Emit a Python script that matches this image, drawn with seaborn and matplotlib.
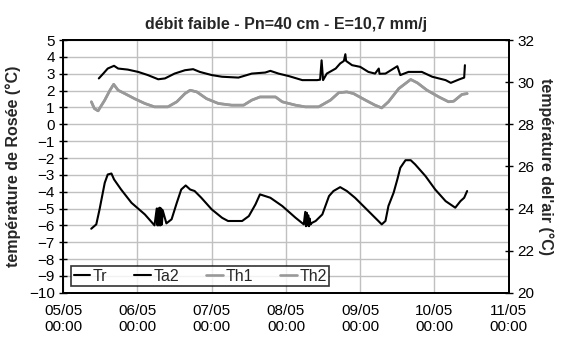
import pandas as pd
import matplotlib
matplotlib.use('Agg')
import matplotlib.pyplot as plt
import matplotlib.dates as mdates
import seaborn as sns

# valeurs (jours depuis le 05/05 00:00)
tr_days = [0.378, 0.446, 0.49, 0.56, 0.60, 0.65, 0.685, 0.78, 0.92, 1.10, 1.23,
           1.26, 1.27, 1.28, 1.29, 1.30, 1.31, 1.32, 1.33, 1.34,
           1.39, 1.46, 1.53, 1.59, 1.65, 1.71, 1.77, 1.86, 2.0, 2.14, 2.22, 2.41,
           2.50, 2.59, 2.65, 2.72, 2.79, 2.95, 3.13, 3.24,
           3.26, 3.27, 3.28, 3.29, 3.30, 3.31, 3.32, 3.33, 3.35,
           3.40, 3.49, 3.58, 3.64, 3.73, 3.82, 3.93, 4.11, 4.29, 4.34, 4.38,
           4.45, 4.50, 4.54, 4.61, 4.68, 4.74, 4.88, 5.01, 5.15, 5.28, 5.35,
           5.40, 5.44]
tr_vals = [-6.2, -5.94, -5.05, -3.47, -2.98, -2.92, -3.27, -3.87, -4.66, -5.35, -6.0,
           -5.0, -6.0, -5.0, -6.0, -4.95, -6.0, -5.0, -5.95, -5.1,
           -5.88, -5.64, -4.66, -3.87, -3.63, -3.87, -3.96, -4.36, -5.05, -5.55, -5.74, -5.74,
           -5.45, -4.75, -4.16, -4.26, -4.36, -4.85, -5.55, -5.94,
           -5.2, -6.05, -5.25, -6.0, -5.4, -6.05, -5.6, -5.95, -5.85,
           -5.74, -5.35, -4.26, -3.96, -3.73, -3.96, -4.36, -5.15, -5.94, -5.74, -4.85,
           -4.06, -3.27, -2.58, -2.13, -2.13, -2.38, -3.08, -3.87, -4.56, -4.95, -4.56,
           -4.36, -3.96]

ta2_days = [0.48, 0.54, 0.60, 0.685, 0.74, 0.87, 1.01, 1.14, 1.28, 1.37, 1.50, 1.64,
            1.75, 1.84, 2.0, 2.14, 2.36, 2.54, 2.72, 2.79, 2.90, 3.04, 3.22, 3.42,
            3.46, 3.48, 3.50, 3.55, 3.67, 3.73, 3.78, 3.80, 3.81, 3.89, 4.0, 4.11,
            4.20, 4.25, 4.26, 4.34, 4.45, 4.50, 4.54, 4.65, 4.83, 4.97, 5.15, 5.22,
            5.33, 5.40, 5.41]
ta2_vals = [30.18, 30.41, 30.65, 30.78, 30.65, 30.60, 30.49, 30.34, 30.14, 30.18, 30.41, 30.57,
            30.62, 30.49, 30.34, 30.26, 30.22, 30.41, 30.46, 30.54, 30.41, 30.29, 30.10, 30.10,
            30.12, 31.04, 30.10, 30.41, 30.65, 30.89, 31.01, 31.33, 31.01, 30.81, 30.73, 30.49,
            30.41, 30.65, 30.40, 30.41, 30.65, 30.76, 30.34, 30.49, 30.49, 30.26, 30.10, 29.97,
            30.13, 30.22, 30.81]

th_days = [0.38, 0.42, 0.47, 0.56, 0.63, 0.68, 0.74, 0.83, 0.96, 1.10, 1.23, 1.41,
           1.53, 1.64, 1.71, 1.80, 1.93, 2.09, 2.27, 2.43, 2.54, 2.65, 2.86, 2.95,
           3.13, 3.26, 3.44, 3.60, 3.71, 3.82, 3.91, 4.07, 4.20, 4.29, 4.38, 4.52,
           4.68, 4.77, 4.90, 5.06, 5.19, 5.26, 5.37, 5.44]
th1_vals = [29.07, 28.75, 28.64, 29.15, 29.62, 29.90, 29.62, 29.46, 29.22, 28.99, 28.83, 28.83,
            29.07, 29.46, 29.62, 29.54, 29.22, 28.99, 28.91, 28.91, 29.15, 29.30, 29.30, 29.07,
            28.91, 28.83, 28.83, 29.15, 29.50, 29.54, 29.46, 29.15, 28.91, 28.78, 29.07, 29.70,
            30.13, 29.97, 29.62, 29.30, 29.07, 29.10, 29.42, 29.46]
# Th2 se superpose à Th1 sur le graphique
th2_vals = list(th1_vals)

start = pd.Timestamp('2008-05-05')
def to_dates(days):
    return start + pd.to_timedelta(days, unit='D')

sns.set_style('white')
plt.rcParams['font.family'] = ['Liberation Sans', 'DejaVu Sans']
fs = 11.5
fs_tick = 11

fig, ax = plt.subplots(figsize=(5.64, 3.40), dpi=100)
fig.subplots_adjust(left=0.112, right=0.902, top=0.882, bottom=0.139)
ax2 = ax.twinx()

sns.lineplot(x=to_dates(tr_days), y=tr_vals, ax=ax, color='black', lw=1.5,
             estimator=None, label='Tr', legend=False)
sns.lineplot(x=to_dates(th_days), y=th1_vals, ax=ax2, color='#999999', lw=1.9,
             estimator=None, label='Th1', legend=False)
sns.lineplot(x=to_dates(th_days), y=th2_vals, ax=ax2, color='#999999', lw=1.9,
             estimator=None, label='Th2', legend=False)
sns.lineplot(x=to_dates(ta2_days), y=ta2_vals, ax=ax2, color='black', lw=1.5,
             estimator=None, label='Ta2', legend=False)

ax.set_xlim(start, start + pd.Timedelta(days=6))
ax.set_ylim(-10, 5)
ax.set_yticks(range(-10, 6))
ax2.set_ylim(20, 32)
ax2.set_yticks(range(20, 33, 2))
ax.xaxis.set_major_locator(mdates.DayLocator())
ax.xaxis.set_major_formatter(mdates.DateFormatter('%d/%m\n%H:%M'))

ax.grid(True, color='#c0c0c0', lw=1)
ax.set_axisbelow(True)
for a in (ax, ax2):
    for s in a.spines.values():
        s.set_color('black')
        s.set_linewidth(1.3)
    a.tick_params(direction='inout', length=6, width=1, colors='black', labelsize=fs_tick, pad=3)
ax.tick_params(axis='x', direction='out', length=4, pad=4)

ax.set_xlabel('')
ax.set_ylabel('température de Rosée (°C)', fontweight='bold', fontsize=fs, labelpad=6)
ax2.set_ylabel("température del'air (°C)", fontweight='bold', fontsize=fs,
               rotation=270, labelpad=14)
ax.set_title('débit faible - Pn=40 cm - E=10,7 mm/j', fontweight='bold', fontsize=fs, pad=8)

h1, l1 = ax.get_legend_handles_labels()
h2, l2 = ax2.get_legend_handles_labels()
handles = dict(zip(l1 + l2, h1 + h2))
order = ['Tr', 'Ta2', 'Th1', 'Th2']
leg = ax2.legend([handles[k] for k in order], order, loc='lower left', ncol=4,
                 bbox_to_anchor=(0.018, 0.026), frameon=True, fancybox=False,
                 edgecolor='black', handlelength=1.05, handletextpad=0.15,
                 columnspacing=1.7, borderpad=0.15, borderaxespad=0, fontsize=fs)
leg.get_frame().set_linewidth(1.2)

fig.savefig('out.png', dpi=100)
